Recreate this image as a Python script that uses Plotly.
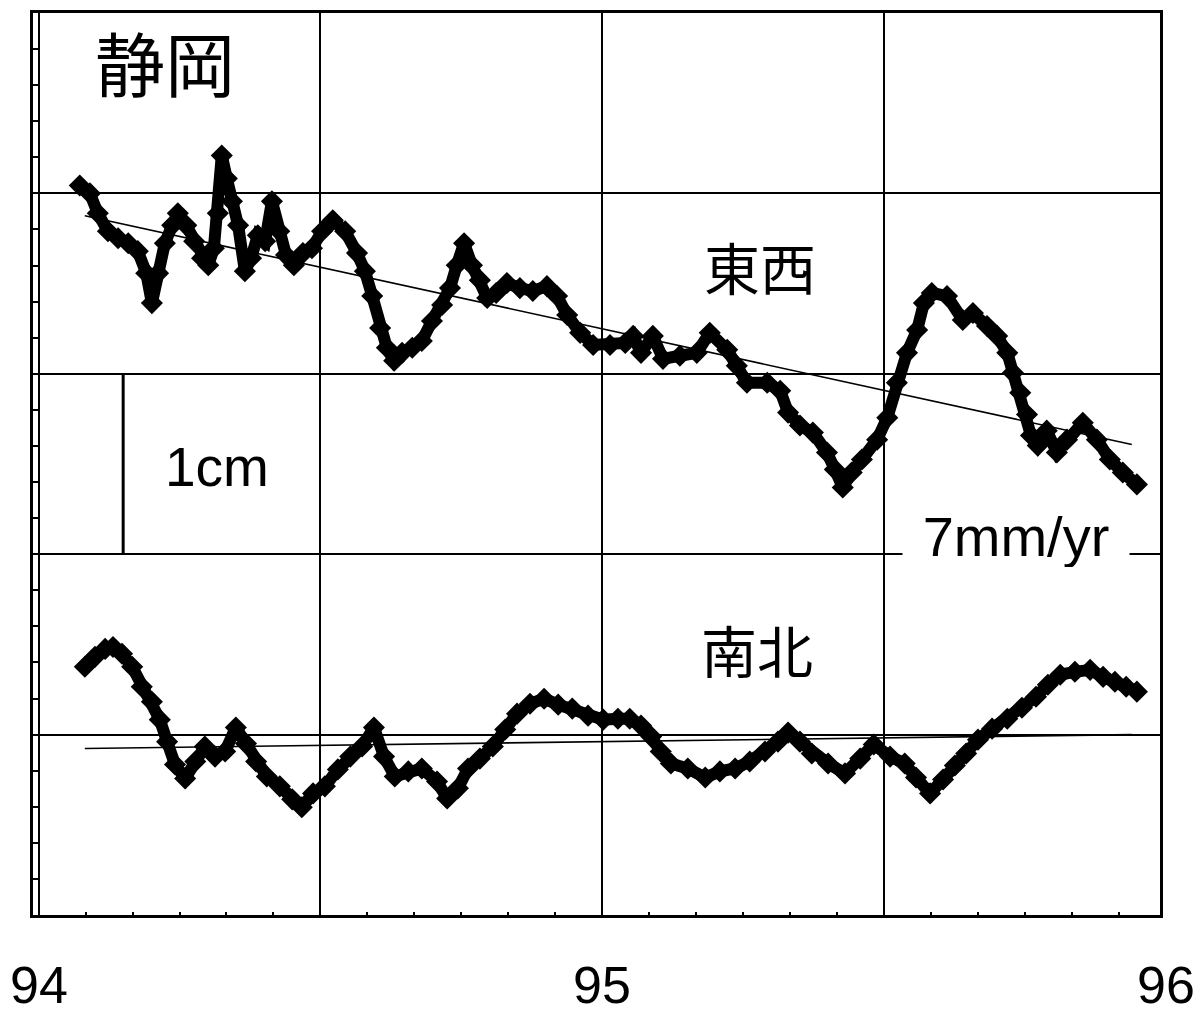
import plotly.graph_objects as go

# ---------------- data (decimal year, displacement in mm) ----------------
EW_T = [94.073, 94.091, 94.105, 94.123, 94.141, 94.159, 94.176, 94.191, 94.201, 94.212,
        94.224, 94.237, 94.247, 94.262, 94.276, 94.290, 94.301, 94.311, 94.318, 94.325,
        94.334, 94.343, 94.354, 94.366, 94.377, 94.389, 94.402, 94.414, 94.427, 94.439,
        94.453, 94.469, 94.485, 94.503, 94.522, 94.544, 94.565, 94.579, 94.592, 94.606,
        94.618, 94.631, 94.645, 94.663, 94.680, 94.698, 94.716, 94.730, 94.742, 94.755,
        94.769, 94.783, 94.796, 94.812, 94.831, 94.854, 94.877, 94.902, 94.920, 94.938,
        94.961, 94.984, 95.014, 95.041, 95.055, 95.069, 95.090, 95.108, 95.138, 95.168,
        95.191, 95.222, 95.239, 95.257, 95.293, 95.316, 95.330, 95.351, 95.374, 95.399,
        95.413, 95.427, 95.443, 95.461, 95.488, 95.506, 95.523, 95.541, 95.559, 95.571,
        95.585, 95.612, 95.640, 95.658, 95.683, 95.701, 95.719, 95.729, 95.742, 95.754,
        95.761, 95.773, 95.789, 95.807, 95.825, 95.853, 95.878, 95.901, 95.924, 95.949]
EW_MM = [30.44, 30.00, 28.90, 27.90, 27.51, 27.24, 26.80, 25.58, 23.92, 25.58,
         27.24, 28.23, 28.90, 28.23, 27.35, 26.41, 26.02, 26.96, 28.90, 32.10,
         30.83, 29.56, 28.23, 25.69, 26.41, 27.68, 27.35, 29.56, 27.90, 26.58,
         26.02, 26.69, 26.96, 27.90, 28.51, 27.90, 26.69, 25.69, 24.31, 22.54,
         21.44, 20.72, 21.16, 21.44, 21.82, 22.93, 23.81, 24.75, 26.02, 27.24,
         26.02, 25.19, 24.20, 24.48, 25.03, 24.75, 24.59, 24.86, 24.31, 23.26,
         22.27, 21.60, 21.60, 21.71, 22.10, 21.16, 22.10, 20.83, 21.00, 21.16,
         22.27, 21.33, 20.44, 19.50, 19.50, 19.06, 17.85, 17.13, 16.74, 15.64,
         14.70, 13.70, 14.53, 15.25, 16.35, 17.57, 19.50, 21.16, 22.43, 23.92,
         24.48, 24.31, 22.98, 23.37, 22.65, 22.10, 21.16, 20.06, 18.95, 17.74,
         16.58, 16.02, 16.85, 15.64, 16.35, 17.29, 16.35, 15.25, 14.53, 13.87]

NS_T = [94.082, 94.100, 94.118, 94.132, 94.148, 94.166, 94.183, 94.201, 94.215, 94.228,
        94.242, 94.260, 94.278, 94.295, 94.313, 94.331, 94.350, 94.368, 94.386, 94.405,
        94.428, 94.450, 94.467, 94.487, 94.508, 94.531, 94.553, 94.574, 94.595, 94.613,
        94.632, 94.656, 94.680, 94.707, 94.725, 94.744, 94.762, 94.783, 94.806, 94.828,
        94.849, 94.872, 94.897, 94.922, 94.947, 94.975, 95.002, 95.028, 95.049, 95.069,
        95.087, 95.104, 95.122, 95.152, 95.183, 95.209, 95.236, 95.262, 95.289, 95.312,
        95.330, 95.351, 95.372, 95.401, 95.431, 95.458, 95.482, 95.511, 95.537, 95.557,
        95.582, 95.605, 95.626, 95.646, 95.667, 95.692, 95.719, 95.745, 95.770, 95.791,
        95.813, 95.839, 95.866, 95.889, 95.910, 95.930, 95.949]
NS_MM = [3.76, 4.31, 4.75, 4.86, 4.48, 3.76, 2.65, 1.82, 0.83, -0.39,
         -1.66, -2.43, -1.49, -0.66, -1.22, -0.94, 0.39, -0.50, -1.49, -2.32,
         -2.87, -3.59, -4.03, -3.26, -2.87, -1.93, -1.22, -0.66, 0.39, -1.22,
         -2.32, -2.04, -1.88, -2.60, -3.54, -2.98, -1.88, -1.33, -0.66, 0.28,
         1.16, 1.71, 1.99, 1.66, 1.44, 1.05, 0.83, 0.88, 0.88, 0.50,
         -0.11, -0.94, -1.60, -1.88, -2.38, -2.04, -1.88, -1.49, -0.94, -0.39,
         0.11, -0.39, -1.05, -1.60, -2.15, -1.33, -0.55, -1.22, -1.60, -2.38,
         -3.26, -2.49, -1.71, -1.05, -0.28, 0.33, 0.88, 1.49, 2.10, 2.76,
         3.32, 3.48, 3.59, 3.20, 2.93, 2.65, 2.38]

# linear trends (end points)
EW_TREND_T = [94.082, 95.940]
EW_TREND_MM = [28.76, 16.08]
NS_TREND_T = [94.082, 95.940]
NS_TREND_MM = [-0.77, 0.0]

# scale bar: 1 cm
SCALE_T = 94.150
SCALE_MM = [10, 20]

YEAR_TICKS = [94, 95, 96]
YEAR_LABELS = ["94", "95", "96"]

TITLE = "静岡"
EW_LABEL = "東西"
NS_LABEL = "南北"
RATE_LABEL = "7mm/yr"
SCALE_LABEL = "1cm"

LATIN = "Liberation Sans, Arial, sans-serif"
CJK = "Noto Sans CJK JP, sans-serif"

X_RANGE = [93.99, 95.99]
Y_RANGE = [-10, 40]

fig = go.Figure()

# trend lines
for tt, yy in [(EW_TREND_T, EW_TREND_MM), (NS_TREND_T, NS_TREND_MM)]:
    fig.add_trace(go.Scatter(x=tt, y=yy, mode="lines",
                             line=dict(color="black", width=1.6),
                             hoverinfo="skip", showlegend=False))

# data series
for tt, yy in [(EW_T, EW_MM), (NS_T, NS_MM)]:
    fig.add_trace(go.Scatter(x=tt, y=yy, mode="lines+markers",
                             line=dict(color="black", width=12),
                             marker=dict(symbol="diamond", size=17, color="black"),
                             showlegend=False))

# scale bar
fig.add_trace(go.Scatter(x=[SCALE_T, SCALE_T], y=SCALE_MM, mode="lines",
                         line=dict(color="black", width=3),
                         hoverinfo="skip", showlegend=False))

fig.update_layout(
    width=1204, height=1017,
    margin=dict(l=25, r=52, t=2, b=110),
    paper_bgcolor="white", plot_bgcolor="white",
    showlegend=False,
    xaxis=dict(range=X_RANGE, tick0=94, dtick=0.5,
               showgrid=True, gridcolor="black", gridwidth=2,
               showticklabels=False, ticks="", zeroline=False,
               showline=True, linecolor="black", linewidth=3, mirror=True,
               minor=dict(dtick=1/12, tick0=94, ticks="inside", ticklen=3,
                          tickcolor="black", tickwidth=1.5, showgrid=False)),
    yaxis=dict(range=Y_RANGE, tick0=0, dtick=10,
               showgrid=True, gridcolor="black", gridwidth=2,
               showticklabels=False, ticks="inside", ticklen=6,
               tickcolor="black", tickwidth=2, zeroline=False,
               showline=True, linecolor="black", linewidth=3, mirror=True,
               minor=dict(dtick=2, tick0=0, ticks="inside", ticklen=6,
                          tickcolor="black", tickwidth=2, showgrid=False)),
)

ann = []
ann.append(dict(x=94.224, y=37.3, xref="x", yref="y", text=TITLE, showarrow=False,
                font=dict(family=CJK, size=70, color="black")))
ann.append(dict(x=95.280, y=26.0, xref="x", yref="y", text=EW_LABEL, showarrow=False,
                font=dict(family=CJK, size=56, color="black")))
ann.append(dict(x=95.275, y=4.8, xref="x", yref="y", text=NS_LABEL, showarrow=False,
                font=dict(family=CJK, size=56, color="black")))
ann.append(dict(x=94.317, y=14.86, xref="x", yref="y", text=SCALE_LABEL, showarrow=False,
                font=dict(family=LATIN, size=55, color="black")))
ann.append(dict(x=95.734, y=11.0, xref="x", yref="y", text=RATE_LABEL, showarrow=False,
                width=226, height=62, bgcolor="white", borderpad=0,
                font=dict(family=LATIN, size=56, color="black")))
for v, lab in zip(YEAR_TICKS, YEAR_LABELS):
    px = (v - X_RANGE[0]) / (X_RANGE[1] - X_RANGE[0])
    ann.append(dict(x=px, y=-0.0773, xref="paper", yref="paper", text=lab, showarrow=False,
                    xanchor="center", yanchor="middle",
                    font=dict(family=LATIN, size=52, color="black")))
fig.update_layout(annotations=ann)

fig.write_html("out.html")
